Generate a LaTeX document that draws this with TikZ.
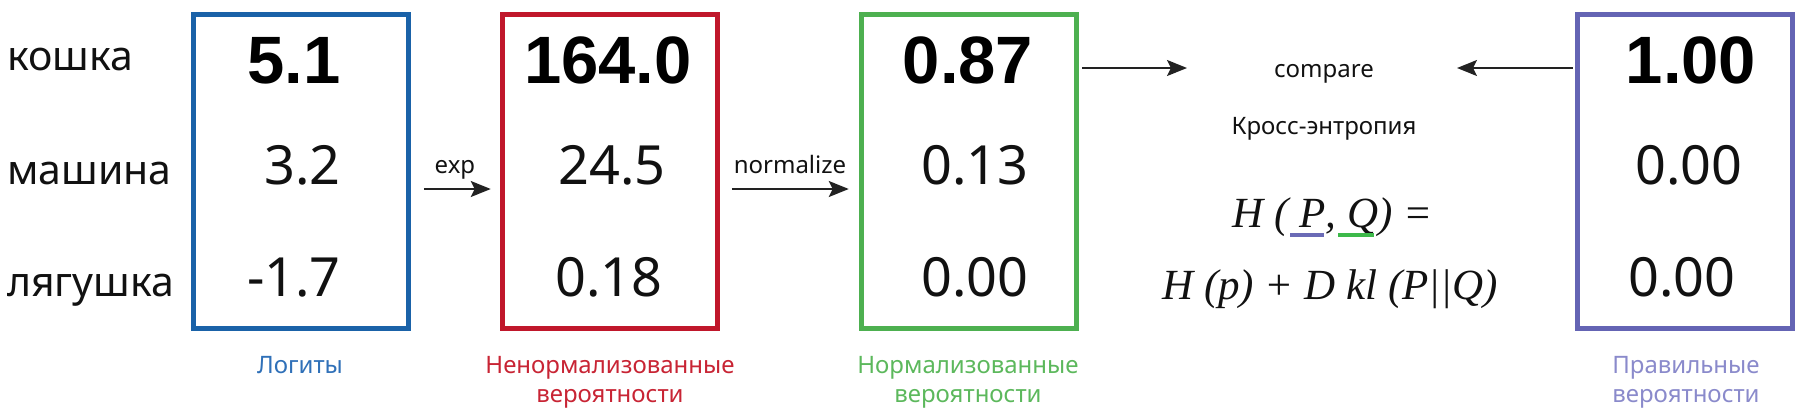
\documentclass[tikz,border=0pt]{standalone}
\usepackage{fontspec}
\setmainfont{Noto Sans}
\newfontfamily\fmlfont{Liberation Serif}
\newfontfamily\bnumfont{Liberation Sans}
\usetikzlibrary{arrows.meta}
\definecolor{cblue}{HTML}{1A62A8}
\definecolor{cbluel}{HTML}{2F70B8}
\definecolor{cred}{HTML}{C0172B}
\definecolor{credl}{HTML}{C82434}
\definecolor{cgreen}{HTML}{4DB050}
\definecolor{cgreenl}{HTML}{5CB85C}
\definecolor{cpurple}{HTML}{6464B4}
\definecolor{cpurplel}{HTML}{8A8ACB}
\definecolor{cgreenu}{HTML}{3DB94A}
\definecolor{cpurpleu}{HTML}{6B6BB6}
\definecolor{ink}{HTML}{111111}
\definecolor{arrowc}{HTML}{222222}
\tikzset{
  box/.style={draw=#1, line width=5pt, minimum width=214.5pt, minimum height=314pt, inner sep=0pt, fill=none},
  rowlbl/.style={anchor=base west, inner sep=0pt, text=ink, font=\fontsize{41}{45}\selectfont},
  num/.style={anchor=base, inner sep=0pt, text=ink, font=\fontsize{54}{58}\selectfont},
  bnum/.style={anchor=base, inner sep=0pt, text=black, font=\fontsize{67}{70}\bnumfont\bfseries},
  cap/.style={anchor=base, inner sep=0pt, align=center, text=#1, font=\fontsize{24}{29}\selectfont},
  small/.style={anchor=base, inner sep=0pt, text=ink, font=\fontsize{24}{28}\selectfont},
  fml/.style={anchor=base west, inner sep=0pt, text=ink, font=\fontsize{43}{48}\fmlfont\itshape},
  arr/.style={draw=arrowc, line width=2pt, -{Stealth[length=20pt, width=16pt, inset=4pt]}},
  uline/.style={draw=#1, line width=4pt},
}
\begin{document}
\begin{tikzpicture}[x=1pt,y=-1pt]
\useasboundingbox (0,0) rectangle (1800,410);

% boxes
\node[box=cblue]   (logits) at (301,171) {};
\node[box=cred]    (unnorm) at (610,171) {};
\node[box=cgreen]  (norm)   at (969,171) {};
\node[box=cpurple] (truth)  at (1685,171) {};

% row labels
\node[rowlbl] (rcat)  at (7,70)  {кошка};
\node[rowlbl] (rcar)  at (7,184) {машина};
\node[rowlbl] (rfrog) at (7,296) {лягушка};

% logits
\node[bnum, anchor=base east] (l1) at (341,83)  {5.1};
\node[num,  anchor=base east] (l2) at (341,184) {3.2};
\node[num,  anchor=base east] (l3) at (341,296) {-1.7};

% unnormalized
\node[bnum] (u1) at (608,83)  {164.0};
\node[num]  (u2) at (612,184) {24.5};
\node[num]  (u3) at (609,296) {0.18};

% normalized
\node[bnum] (n1) at (968,83)  {0.87};
\node[num]  (n2) at (975,184) {0.13};
\node[num]  (n3) at (975,296) {0.00};

% true
\node[bnum] (t1) at (1691,83)  {1.00};
\node[num]  (t2) at (1689,184) {0.00};
\node[num]  (t3) at (1682,296) {0.00};

% captions (base = last line)
\node[cap=cbluel]   (c1) at (300,373)  {Логиты};
\node[cap=credl]    (c2) at (610,402)  {Ненормализованные\\вероятности};
\node[cap=cgreenl]  (c3) at (968,402)  {Нормализованные\\вероятности};
\node[cap=cpurplel] (c4) at (1686,402) {Правильные\\вероятности};

% arrow labels
\node[small] (expl)  at (455,173) {exp};
\node[small] (norml) at (790,173) {normalize};

% arrows between boxes
\draw[arr] ([shift={(13,18)}]logits.east) -- ([shift={(-9.5,18)}]unnorm.west);
\draw[arr] ([shift={(12,18)}]unnorm.east) -- ([shift={(-10.5,18)}]norm.west);

% compare
\node[small] (cmp) at (1324,77) {compare};
\node[small] (ce)  at (1324,134) {Кросс-энтропия};
\coordinate (cmpin)  at (1187,68);
\coordinate (cmpin2) at (1457,68);
\draw[arr] ([xshift=3.5pt]norm.east |- cmpin) -- (cmpin);
\draw[arr] ([xshift=-2.5pt]truth.west |- cmpin2) -- (cmpin2);

% formula
\node[fml] (fH) at (1232,227) {H (};
\node[fml] (fP) at (1299,227) {P};
\node[fml] (fc) at (fP.base east) {,};
\node[fml] (fQ) at (1347,227) {Q)};
\node[fml] (fe) at (1403,227) {=};
\node[fml] (f2) at (1162,299) {H (p) + D kl (P||Q)};
\draw[uline=cpurpleu] ([shift={(-9,8)}]fP.base west) -- ([shift={(-2,8)}]fP.base east);
\draw[uline=cgreenu]  ([shift={(-9,8)}]fQ.base west) -- ([shift={(-19,8)}]fQ.base east);
\end{tikzpicture}
\end{document}
